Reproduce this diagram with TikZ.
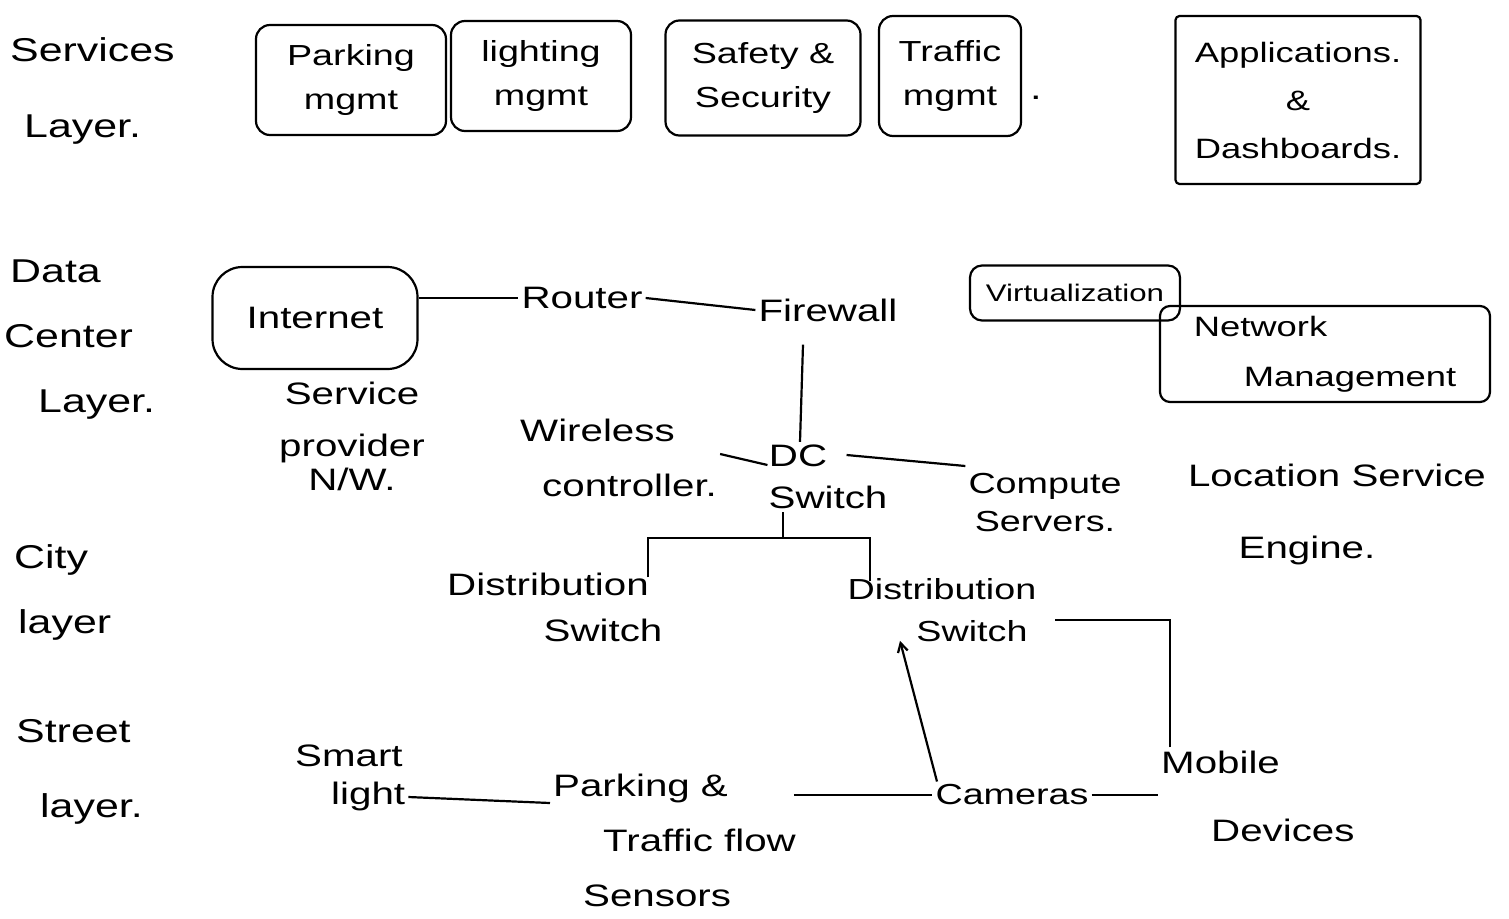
\documentclass[tikz,border=0pt]{standalone}
\usepackage{fontspec}
\setmainfont{Liberation Sans}[FakeStretch=1.3]
\usetikzlibrary{arrows.meta}
\begin{document}
\begin{tikzpicture}[x=1pt,y=-1pt,
  layer/.style={align=left, anchor=west, font=\fontsize{33}{68}\selectfont, inner sep=0pt},
  lbl/.style={align=center, font=\fontsize{31}{46}\selectfont, inner sep=3pt},
  lbll/.style={align=left, anchor=west, font=\fontsize{31}{46}\selectfont, inner sep=3pt},
  svc/.style={draw, line width=2.2pt, rounded corners=14pt, align=center, font=\fontsize{29}{44}\selectfont, inner sep=2pt},
  wire/.style={line width=2.2pt},
  tip/.style={-{Straight Barb[length=9pt,width=10pt]}}
]
\useasboundingbox (0,0) rectangle (1509,918);
\fill[white] (0,0) rectangle (1509,918);

% layer labels
\node[layer, font=\fontsize{33}{76}\selectfont] (servL) at (10,91) {Services\\\hspace*{14pt}Layer.};
\node[layer, font=\fontsize{33}{65}\selectfont] (dcL) at (4,340) {\hspace*{6pt}Data\\Center\\\hspace*{34pt}Layer.};
\node[layer, font=\fontsize{33}{65}\selectfont] (cityL) at (14,592) {City\\\hspace*{4pt}layer};
\node[layer, font=\fontsize{33}{75}\selectfont] (streetL) at (16,772) {Street\\\hspace*{24pt}layer.};

% services layer
\node[svc, minimum width=190pt, minimum height=110pt] (park) at (351,80) {Parking\\mgmt};
\node[svc, minimum width=180pt, minimum height=110pt] (light) at (541,76) {lighting\\mgmt};
\node[svc, minimum width=195pt, minimum height=115pt] (safe) at (763,78) {Safety \&\\Security};
\node[svc, minimum width=142pt, minimum height=120pt] (traf) at (950,76) {Traffic\\mgmt};
\node[font=\fontsize{32}{40}\selectfont, inner sep=0pt] (dot) at (1036,98) {.};
\node[svc, rounded corners=4pt, minimum width=245pt, minimum height=168pt, font=\fontsize{28}{48}\selectfont] (apps) at (1298,100) {Applications.\\\&\\Dashboards.};

% data center layer
\node[svc, rounded corners=30pt, minimum width=205pt, minimum height=102pt, font=\fontsize{31}{40}\selectfont] (inet) at (315,318) {Internet};
\node[lbl] (router) at (582,298) {Router};
\node[lbl] (fw) at (828,310) {Firewall};
\node[svc, rounded corners=12pt, minimum width=210pt, minimum height=55pt, font=\fontsize{24}{30}\selectfont] (virt) at (1075,293) {Virtualization};
\node[svc, rounded corners=10pt, minimum width=330pt, minimum height=96pt, font=\fontsize{28}{50}\selectfont, align=left] (netm) at (1325,354) {Network\\\hspace*{50pt}Management};
\node[lbl, font=\fontsize{31}{52}\selectfont] (spnw) at (352,436) {Service\\provider\\[-18pt]N/W.};
\node[lbll, font=\fontsize{31}{55}\selectfont] (wlc) at (517,458) {Wireless\\\hspace*{22pt}controller.};
\node[lbl, font=\fontsize{31}{42}\selectfont] (dc) at (828,477) {\hspace*{-60pt}DC\\Switch};
\node[lbl, font=\fontsize{29}{38}\selectfont] (comp) at (1045,503) {Compute\\Servers.};
\node[lbl, font=\fontsize{31}{72}\selectfont] (lse) at (1337,514) {Location Service\\\hspace*{-60pt}Engine.};

% city layer
\node[lbl, font=\fontsize{31}{46}\selectfont] (ds1) at (548,607) {Distribution\\\hspace*{110pt}Switch};
\node[lbl, font=\fontsize{29}{42}\selectfont] (ds2) at (942,610) {Distribution\\\hspace*{60pt}Switch};

% street layer
\node[lbll, font=\fontsize{31}{38}\selectfont] (smart) at (292,778) {Smart\\\hspace*{36pt}light};
\node[lbll, font=\fontsize{31}{55}\selectfont] (pts) at (550,840) {Parking \&\\\hspace*{50pt}Traffic flow\\\hspace*{30pt}Sensors};
\node[lbl, font=\fontsize{29}{40}\selectfont] (cam) at (1012,795) {Cameras};
\node[lbll, font=\fontsize{31}{68}\selectfont] (mob) at (1158,796) {Mobile\\\hspace*{50pt}Devices};

% connectors
\draw[wire] ([yshift=20pt]inet.east) -- (router.west);
\draw[wire] (router.east) -- (fw.west);
\draw[wire] ([xshift=-25pt,yshift=-20pt]fw.south) -- ([xshift=-28pt]dc.north);
\draw[wire] ([yshift=4pt]wlc.east) -- ([yshift=12pt,xshift=2pt]dc.west);
\draw[wire] ([yshift=22pt,xshift=-44pt]dc.east) -- ([yshift=37pt]comp.west);
\draw[wire] ([xshift=-45pt]dc.south) -- ++(0,26) coordinate (bj);
\draw[wire] ([xshift=100pt,yshift=-8pt]ds1.north) |- (bj) -| ([xshift=-72pt,yshift=-6pt]ds2.north);
\draw[wire] ([yshift=-19pt]smart.east) -- ([yshift=37pt]pts.west);
\draw[wire] ([xshift=-5pt]pts.east |- cam.west) -- (cam.west);
\draw[wire] (cam.east) -- (cam.east -| mob.west);
\draw[wire, tip] ([xshift=-75pt]cam.north) -- ([xshift=-42pt,yshift=4pt]ds2.south);
\draw[wire] ([xshift=12pt]mob.north west) |- ([yshift=-10pt,xshift=15pt]ds2.east);
\end{tikzpicture}
\end{document}
